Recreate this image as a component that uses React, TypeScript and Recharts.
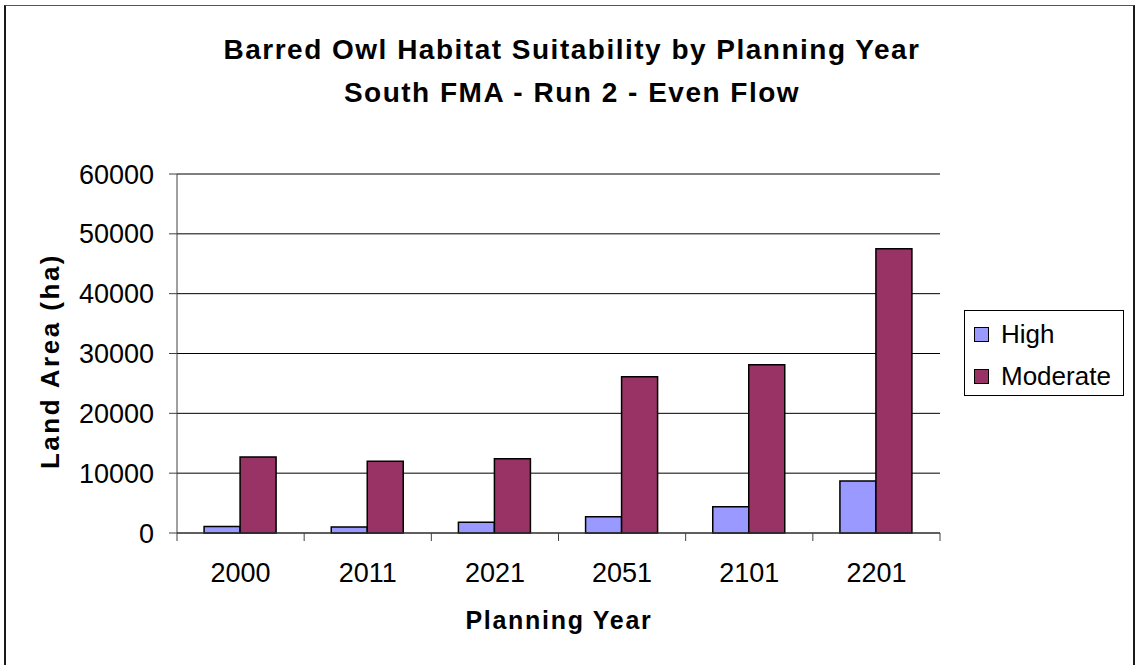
import { Bar, BarChart, CartesianGrid, XAxis, YAxis } from "recharts";

const years = ["2000", "2011", "2021", "2051", "2101", "2201"];
const highArea = [1100, 1000, 1800, 2700, 4400, 8700];
const moderateArea = [12700, 12000, 12400, 26100, 28100, 47500];
const yTicks = [0, 10000, 20000, 30000, 40000, 50000, 60000];
const seriesNames = ["High", "Moderate"];
const seriesColors = ["#9999FF", "#993366"];

const W = 1139;
const H = 665;
// plot box in page pixels
const PLOT_LEFT = 177;
const PLOT_RIGHT = 940;
const PLOT_TOP = 174;
const PLOT_BOTTOM = 533;
const Y_AXIS_W = 100;
const X_AXIS_H = 60;
const CAT_W = (PLOT_RIGHT - PLOT_LEFT) / years.length;
const FONT = "'Liberation Sans', Arial, sans-serif";

const data = years.map((year, i) => ({
  year,
  high: highArea[i],
  moderate: moderateArea[i],
}));

// category labels centred, tick marks on the category boundaries
function YearTick(props: any) {
  const { x, y, payload, index } = props;
  const left = x - CAT_W / 2;
  const right = x + CAT_W / 2;
  return (
    <g>
      <line x1={left} x2={left} y1={y} y2={y + 8} stroke="#404040" />
      {index === years.length - 1 && (
        <line x1={right} x2={right} y1={y} y2={y + 8} stroke="#404040" />
      )}
      <text
        x={x}
        y={y + 49}
        textAnchor="middle"
        fontSize={27}
        fontFamily={FONT}
        fill="#000"
      >
        {payload.value}
      </text>
    </g>
  );
}

export default function App() {
  return (
    <div
      style={{
        position: "absolute",
        left: 0,
        top: 0,
        width: W,
        height: H,
        background: "#fff",
        overflow: "hidden",
        fontFamily: FONT,
      }}
    >
      {/* chart border */}
      <div
        style={{
          position: "absolute",
          left: 4,
          top: 5,
          width: 1127,
          height: 700,
          borderLeft: "2px solid #1a1a1a",
          borderRight: "2px solid #1a1a1a",
          borderTop: "1px solid #555",
        }}
      />

      <BarChart
        width={W}
        height={H}
        data={data}
        margin={{
          top: PLOT_TOP,
          right: W - PLOT_RIGHT,
          bottom: H - PLOT_BOTTOM - X_AXIS_H,
          left: PLOT_LEFT - Y_AXIS_W,
        }}
        barCategoryGap="21.3%"
        barGap={0}
        style={{ position: "absolute", left: 0, top: 0 }}
      >
        <CartesianGrid vertical={false} stroke="#000" />
        <XAxis
          dataKey="year"
          height={X_AXIS_H}
          tickLine={false}
          tickSize={0}
          tickMargin={0}
          axisLine={{ stroke: "#404040" }}
          tick={<YearTick />}
          interval={0}
        />
        <YAxis
          width={Y_AXIS_W}
          domain={[0, 60000]}
          ticks={yTicks}
          interval={0}
          tickSize={8}
          tickMargin={15}
          tickLine={{ stroke: "#404040" }}
          axisLine={{ stroke: "#404040" }}
          tick={{ fontSize: 27, fill: "#000", fontFamily: FONT }}
        />
        <Bar
          dataKey="high"
          name={seriesNames[0]}
          fill={seriesColors[0]}
          stroke="#000"
          strokeWidth={1.5}
          isAnimationActive={false}
        />
        <Bar
          dataKey="moderate"
          name={seriesNames[1]}
          fill={seriesColors[1]}
          stroke="#000"
          strokeWidth={1.5}
          isAnimationActive={false}
        />
      </BarChart>

      {/* titles */}
      <svg
        width={W}
        height={H}
        style={{ position: "absolute", left: 0, top: 0, pointerEvents: "none" }}
      >
        <text
          x={572}
          y={59}
          textAnchor="middle"
          fontSize={28}
          fontWeight="bold"
          letterSpacing={1.5}
          fontFamily={FONT}
        >
          Barred Owl Habitat Suitability by Planning Year
        </text>
        <text
          x={572}
          y={102}
          textAnchor="middle"
          fontSize={28}
          fontWeight="bold"
          letterSpacing={1.5}
          fontFamily={FONT}
        >
          South FMA - Run 2 - Even Flow
        </text>
        <text
          x={559}
          y={629}
          textAnchor="middle"
          fontSize={25}
          fontWeight="bold"
          letterSpacing={1.7}
          fontFamily={FONT}
        >
          Planning Year
        </text>
        <text
          x={59}
          y={361}
          transform="rotate(-90 59 361)"
          textAnchor="middle"
          fontSize={26}
          fontWeight="bold"
          letterSpacing={2.5}
          fontFamily={FONT}
        >
          Land Area (ha)
        </text>
      </svg>

      {/* legend */}
      <div
        style={{
          position: "absolute",
          left: 964,
          top: 310,
          width: 160,
          height: 86,
          border: "1px solid #000",
          boxSizing: "border-box",
          background: "#fff",
        }}
      >
        {seriesNames.map((name, i) => (
          <div
            key={name}
            style={{
              position: "absolute",
              left: 9,
              top: i === 0 ? 7 : 49,
              height: 32,
              display: "flex",
              alignItems: "center",
              fontSize: 26,
              whiteSpace: "nowrap",
            }}
          >
            <span
              style={{
                display: "inline-block",
                width: 13,
                height: 13,
                background: seriesColors[i],
                border: "1.5px solid #000",
                marginRight: 12,
              }}
            />
            {name}
          </div>
        ))}
      </div>
    </div>
  );
}
